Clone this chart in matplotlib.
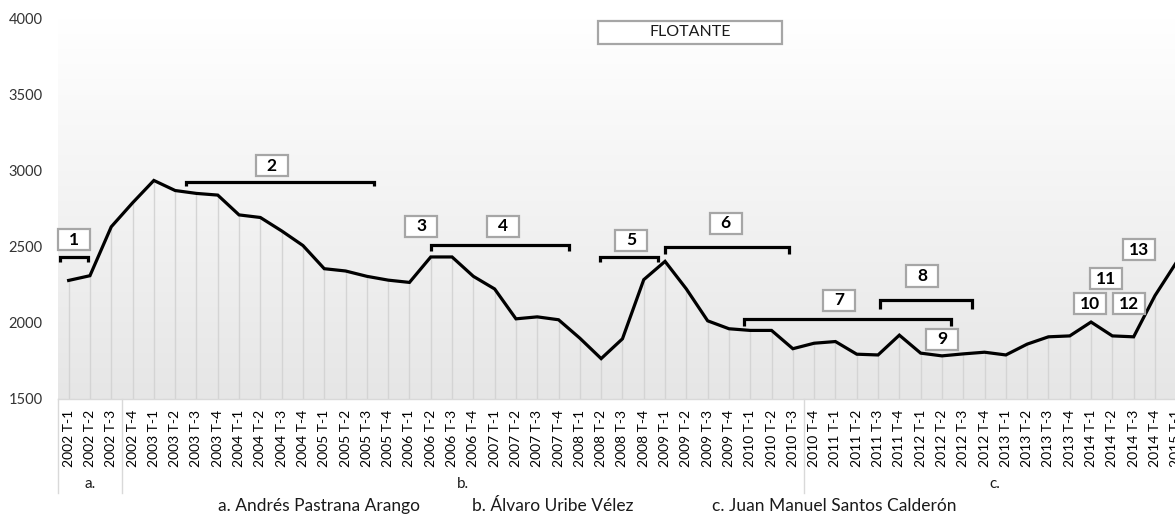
import matplotlib
matplotlib.use("Agg")
import matplotlib.pyplot as plt
import numpy as np
from matplotlib.patches import Rectangle
from matplotlib.transforms import blended_transform_factory
from matplotlib.colors import LinearSegmentedColormap

plt.rcParams['font.family'] = ['Lato', 'DejaVu Sans']

# ---------------- data ----------------
years = list(range(2002, 2016))
quarters = [f"{y} T-{q}" for y in years for q in range(1, 5)][:53]
values = [2278, 2309, 2630, 2787, 2934, 2868, 2849, 2838, 2708, 2691,
          2603, 2507, 2355, 2340, 2305, 2280, 2265, 2432, 2432, 2305,
          2222, 2026, 2039, 2020, 1899, 1765, 1895, 2283, 2403, 2222,
          2013, 1961, 1950, 1950, 1830, 1866, 1877, 1794, 1789, 1919,
          1801, 1783, 1796, 1807, 1789, 1860, 1908, 1914, 2005, 1914,
          1908, 2178, 2395]
group_labels = ["a.", "b.", "c."]
group_sizes = [3, 32, 18]
legend_names = ["a. Andrés Pastrana Arango", "b. Álvaro Uribe Vélez",
                "c. Juan Manuel Santos Calderón"]
box_labels = ["1", "2", "3", "4", "5", "6", "7", "8", "9", "10", "11", "12", "13"]
title_box = "FLOTANTE"

# annotation layout (category index, value units)
box_centers = [(0.23, 2546), (9.53, 3031), (16.56, 2634), (20.41, 2634),
               (26.42, 2543), (30.85, 2653), (36.18, 2149), (40.08, 2307),
               (41.01, 1893), (47.93, 2124), (48.72, 2288), (49.80, 2124),
               (50.24, 2479)]
brackets = [(-0.42, 0.89, 2432, 2397), (5.52, 14.33, 2926, 2897),
            (17.03, 23.47, 2509, 2469), (24.93, 27.69, 2430, 2397),
            (28.0, 33.83, 2500, 2454), (31.69, 41.44, 2025, 1980),
            (38.08, 42.43, 2147, 2090)]

W, H = 1175, 515
fig = plt.figure(figsize=(W / 100, H / 100), dpi=100)
ax = fig.add_axes([58 / W, 1 - 399 / H, 53 * 21.3 / W, 381 / H])

x = np.arange(len(values))
ymin, ymax = 1500, 4000

# gradient background
grad = np.linspace(1.0, 0.0, 256).reshape(-1, 1)
cmap = LinearSegmentedColormap.from_list("g", ["#e6e6e6", "#ffffff"])
ax.imshow(grad, extent=[0, 1, 0, 1], transform=ax.transAxes, aspect='auto',
          cmap=cmap, vmin=0, vmax=1, origin='upper', zorder=0)

# drop lines
ax.vlines(x, ymin, values, colors="#d4d4d4", linewidth=1.0, zorder=1)
# line
ax.plot(x, values, color="black", linewidth=2.3, zorder=3, solid_joinstyle='miter')

ax.set_xlim(-0.5, len(values) - 0.5)
ax.set_ylim(ymin, ymax)
ax.set_yticks(np.arange(1500, 4001, 500))
ax.tick_params(axis='y', length=0, pad=11, labelsize=10.5, labelcolor="#333333")
ax.set_xticks(x)
ax.set_xticklabels(quarters, rotation=90, fontsize=10, va='top', ha='center')
ax.tick_params(axis='x', length=0, pad=8, labelcolor="#000000")
for s in ["top", "right", "left"]:
    ax.spines[s].set_visible(False)
ax.spines["bottom"].set_color("#d9d9d9")
ax.spines["bottom"].set_linewidth(1.0)

# brackets
for x0, x1, yl, yt in brackets:
    ax.plot([x0, x0, x1, x1], [yt, yl, yl, yt], color="black", linewidth=2.3,
            solid_joinstyle='miter', solid_capstyle='butt', zorder=4)

# numbered boxes
bw, bh = 1.5, 138
for (cx, cy), lab in zip(box_centers, box_labels):
    ax.add_patch(Rectangle((cx - bw / 2, cy - bh / 2), bw, bh, facecolor="white",
                           edgecolor="#a6a6a6", linewidth=1.6, zorder=5, clip_on=False))
    ax.text(cx, cy, lab, ha='center', va='center', fontsize=12.5,
            fontweight='bold', zorder=6)

# title box
ax.add_patch(Rectangle((29.18 - 8.66 / 2, 3906 - 76), 8.66, 153, facecolor="white",
                       edgecolor="#a6a6a6", linewidth=1.6, zorder=5, clip_on=False))
ax.text(29.18, 3906, title_box, ha='center', va='center', fontsize=11.5,
        color="#1a1a1a", zorder=6)

# group labels & separators in category area
trans = blended_transform_factory(ax.transData, ax.transAxes)
start = 0
bounds = [-0.5]
for lab, n in zip(group_labels, group_sizes):
    center = start + (n - 1) / 2
    ax.text(center, -85 / 381, lab, transform=trans, ha='center', va='center',
            fontsize=11, color="#1a1a1a")
    start += n
    bounds.append(start - 0.5)
for b in bounds[:-1]:
    ax.plot([b, b], [0, -94 / 381], transform=trans, color="#d9d9d9",
            linewidth=1.0, clip_on=False)

# bottom legend texts
for name, cxp in zip(legend_names, [319.5, 553, 834]):
    fig.text(cxp / W, 1 - 506 / H, name, ha='center', va='center',
             fontsize=12.5, color="#1a1a1a")

fig.savefig("out.png", dpi=100)
